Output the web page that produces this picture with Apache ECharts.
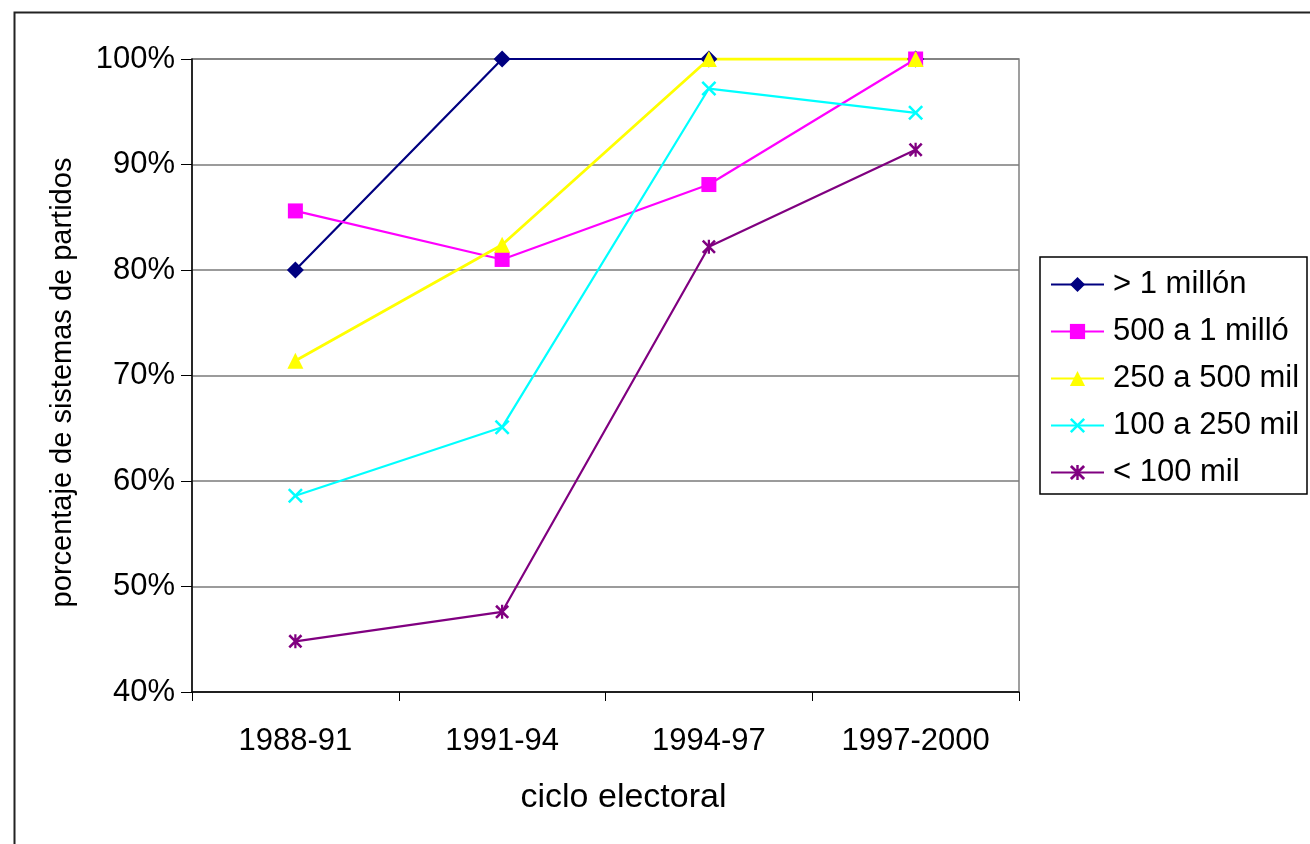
<!DOCTYPE html>
<html>
<head>
<meta charset="utf-8">
<script src="https://cdn.jsdelivr.net/npm/echarts@6/dist/echarts.min.js"></script>
<style>
html,body{margin:0;padding:0;background:#fff;}
#chart{width:1310px;height:844px;}
</style>
</head>
<body>
<div id="chart"></div>
<script>
const categories = ['1988-91', '1991-94', '1994-97', '1997-2000'];
const seriesNames = ['> 1 millón', '500 a 1 millón', '250 a 500 mil', '100 a 250 mil', '< 100 mil'];
const mas1millon = [80, 100, 100, 100];
const de500a1millon = [85.6, 81.0, 88.1, 100];
const de250a500mil = [71.4, 82.4, 100, 100];
const de100a250mil = [58.6, 65.1, 97.2, 94.9];
const menos100mil = [44.8, 47.6, 82.2, 91.4];
const yTicks = { min: 40, max: 100, interval: 10 };

const FONT = '"Liberation Sans", Arial, sans-serif';
const xSym = 'path://M0,1.2 L1.2,0 L5,3.8 L8.8,0 L10,1.2 L6.2,5 L10,8.8 L8.8,10 L5,6.2 L1.2,10 L0,8.8 L3.8,5 Z';
const starSym = 'path://M0,1.3 L1.3,0 L5,3.7 L8.7,0 L10,1.3 L6.3,5 L10,8.7 L8.7,10 L5,6.3 L1.3,10 L0,8.7 L3.7,5 Z M4.2,0 L5.8,0 L5.8,10 L4.2,10 Z';

const styles = [
  { color: '#000080', symbol: 'diamond', size: 17, width: 2.2 },
  { color: '#FF00FF', symbol: 'rect', size: 15, width: 2.2 },
  { color: '#FFFF00', symbol: 'triangle', size: 16, width: 2.8 },
  { color: '#00FFFF', symbol: xSym, size: 15, width: 2.2 },
  { color: '#800080', symbol: starSym, size: 14, width: 2.2 }
];
const values = [mas1millon, de500a1millon, de250a500mil, de100a250mil, menos100mil];

const chart = echarts.init(document.getElementById('chart'), null, { renderer: 'canvas' });
chart.setOption({
  backgroundColor: '#ffffff',
  animation: false,
  textStyle: { fontFamily: FONT },
  graphic: [{
    type: 'rect', left: 12, top: 10, silent: true,
    shape: { width: 1400, height: 1000 },
    style: { fill: 'none', stroke: '#222', lineWidth: 2 }
  }],
  grid: {
    left: 192, right: 291, top: 59, bottom: 152,
    show: true, borderColor: '#808080', borderWidth: 1.5, backgroundColor: 'transparent'
  },
  legend: {
    orient: 'vertical',
    left: 1040, top: 257,
    padding: [12, 0, 6, 10],
    itemWidth: 53, itemHeight: 19, itemGap: 16,
    borderColor: '#000', borderWidth: 1.5,
    textStyle: { fontFamily: FONT, fontSize: 31, color: '#000', lineHeight: 31,
      padding: [0, 0, 0, 4], width: 194, overflow: 'truncate', ellipsis: '' },
    data: seriesNames
  },
  xAxis: {
    type: 'category',
    data: categories,
    boundaryGap: true,
    name: 'ciclo electoral',
    nameLocation: 'middle',
    nameGap: 89,
    nameTextStyle: { fontFamily: FONT, fontSize: 34, color: '#000', padding: [0, 0, 0, 36] },
    axisLine: { lineStyle: { color: '#000', width: 1.5 } },
    axisTick: { show: true, length: 9, inside: false, lineStyle: { color: '#000', width: 1 } },
    axisLabel: { fontFamily: FONT, fontSize: 31, color: '#000', margin: 34 },
    splitLine: { show: false }
  },
  yAxis: {
    type: 'value',
    min: yTicks.min, max: yTicks.max, interval: yTicks.interval,
    name: 'porcentaje de sistemas de partidos',
    nameLocation: 'middle',
    nameRotate: 90,
    nameGap: 115,
    nameTextStyle: { fontFamily: FONT, fontSize: 29, color: '#000', padding: [0, 14, 0, 0] },
    axisLine: { show: true, lineStyle: { color: '#000', width: 1.5 } },
    axisTick: { show: true, length: 11, inside: false, lineStyle: { color: '#000', width: 1 } },
    axisLabel: { fontFamily: FONT, fontSize: 31, color: '#000', margin: 17, formatter: '{value}%' },
    splitLine: { show: true, lineStyle: { color: '#7a7a7a', width: 1.5 } }
  },
  series: seriesNames.map((name, i) => ({
    name: name,
    type: 'line',
    data: values[i],
    symbol: styles[i].symbol,
    symbolSize: styles[i].size,
    showAllSymbol: true,
    lineStyle: { color: styles[i].color, width: styles[i].width },
    itemStyle: { color: styles[i].color, borderWidth: 0 },
    emphasis: { disabled: true }
  }))
});
</script>
</body>
</html>
